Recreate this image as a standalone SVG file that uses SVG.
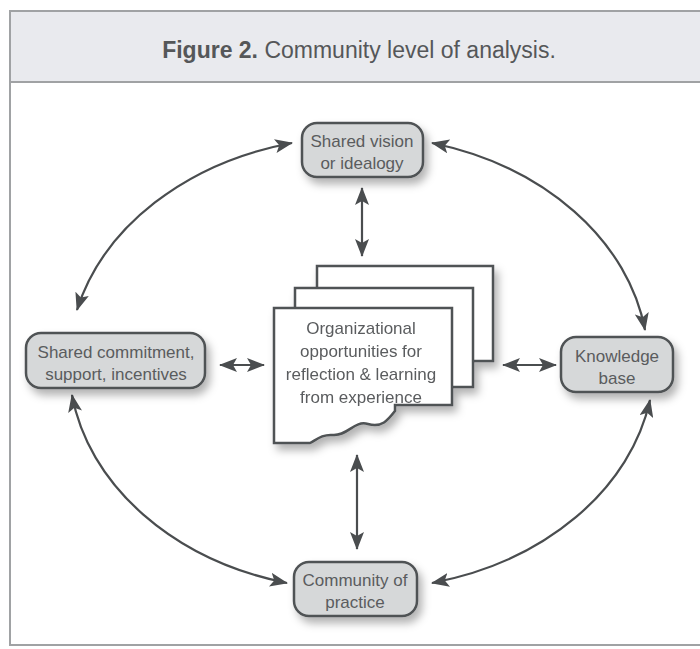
<svg xmlns="http://www.w3.org/2000/svg" width="700" height="649" viewBox="0 0 700 649">
  <defs>
    <filter id="shadow" x="-20%" y="-20%" width="150%" height="160%">
      <feDropShadow dx="4" dy="6" stdDeviation="4" flood-color="#000" flood-opacity="0.3"/>
    </filter>
    <marker id="arrow" viewBox="0 0 18 14" refX="17" refY="7" markerWidth="18" markerHeight="14" markerUnits="userSpaceOnUse" orient="auto-start-reverse">
      <path d="M0,0 L18,7 L0,14 L4,7 Z" fill="#4a4d4f"/>
    </marker>
  </defs>
  <style>
    .frame { fill: none; stroke: #a0a2a4; stroke-width: 2; }
    .header { fill: #e9eaee; stroke: #a0a2a4; stroke-width: 2; }
    .title { font-family: "Liberation Sans", Arial, sans-serif; font-size: 23px; fill: #555759; }
    .node rect { fill: #d6d8d9; stroke: #4f5254; stroke-width: 2.5; }
    .label { font-family: "Liberation Sans", Arial, sans-serif; font-size: 17px; fill: #5a5c5e; text-anchor: middle; }
    .page { fill: #ffffff; stroke: #4f5254; stroke-width: 2.5; }
    .link { fill: none; stroke: #4a4d4f; stroke-width: 2.2; marker-start: url(#arrow); marker-end: url(#arrow); }
  </style>

  <rect width="700" height="649" fill="#ffffff"/>

  <!-- outer frame and title band -->
  <path class="frame" d="M10,11 V645 H700"/>
  <rect class="header" x="10" y="11" width="700" height="71"/>
  <text class="title" x="359" y="58" text-anchor="middle"><tspan font-weight="bold">Figure 2.</tspan> Community level of analysis.</text>

  <!-- connectors -->
  <g id="connectors">
    <path class="link" d="M77,310 A290,228 0 0 1 292,143"/>
    <path class="link" d="M432,143 A290,228 0 0 1 645,330"/>
    <path class="link" d="M72,395 A290,228 0 0 0 287,583"/>
    <path class="link" d="M432,583 A290,228 0 0 0 650,400"/>
    <path class="link" d="M362,188 V256"/>
    <path class="link" d="M357,455 V549"/>
    <path class="link" d="M220,365 H264"/>
    <path class="link" d="M503,365 H556"/>
  </g>

  <!-- central stack of pages -->
  <g id="center" filter="url(#shadow)">
    <rect class="page" x="317" y="266" width="176" height="95"/>
    <rect class="page" x="295" y="288" width="178" height="99"/>
    <path class="page" d="M274,308 H452 V405 H395 V411 C388,420 382,428 368,424 C354,420 348,436 333,435 C322,434 316,440 310,443 H274 Z"/>
    <text class="label" x="361" y="334">Organizational</text>
    <text class="label" x="361" y="357">opportunities for</text>
    <text class="label" x="361" y="380">reflection &amp; learning</text>
    <text class="label" x="361" y="403">from experience</text>
  </g>

  <g id="vision" class="node">
    <rect x="302" y="123" width="121" height="54" rx="15" filter="url(#shadow)"/>
    <text class="label" x="362" y="147">Shared vision</text>
    <text class="label" x="362" y="169">or idealogy</text>
  </g>

  <g id="commitment" class="node">
    <rect x="26" y="333" width="179" height="55" rx="15" filter="url(#shadow)"/>
    <text class="label" x="116" y="358">Shared commitment,</text>
    <text class="label" x="116" y="380">support, incentives</text>
  </g>

  <g id="knowledge" class="node">
    <rect x="561" y="337" width="112" height="55" rx="15" filter="url(#shadow)"/>
    <text class="label" x="617" y="362">Knowledge</text>
    <text class="label" x="617" y="384">base</text>
  </g>

  <g id="practice" class="node">
    <rect x="294" y="562" width="123" height="54" rx="15" filter="url(#shadow)"/>
    <text class="label" x="355" y="586">Community of</text>
    <text class="label" x="355" y="608">practice</text>
  </g>
</svg>
